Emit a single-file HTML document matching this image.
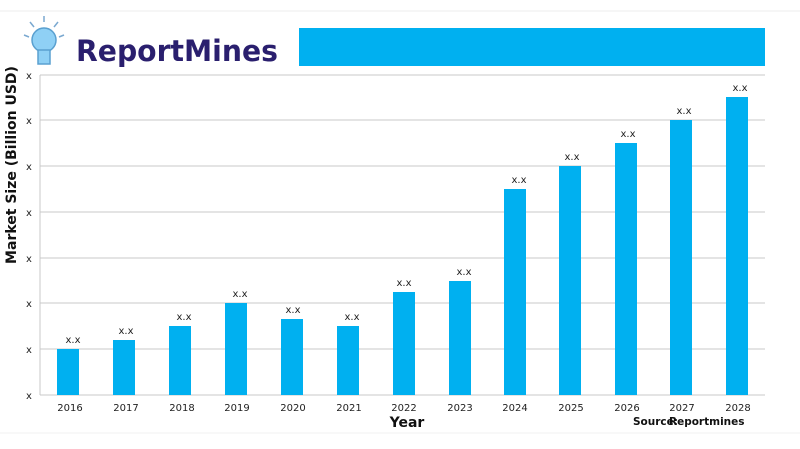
<!DOCTYPE html>
<html><head><style>
body{margin:0;width:800px;height:445px;background:#fff;overflow:hidden;font-family:"DejaVu Sans","Liberation Sans",sans-serif;}
</style></head><body>
<svg width="800" height="445" xmlns="http://www.w3.org/2000/svg" font-family="DejaVu Sans, Liberation Sans, sans-serif">
<line x1="0" y1="11" x2="800" y2="11" stroke="#eee"/>
<line x1="0" y1="433" x2="800" y2="433" stroke="#f2f2f2"/>
<rect x="299" y="28" width="466" height="38" fill="#00b0f0"/>
<g>
<circle cx="44" cy="40" r="12" fill="#8fd0f5" stroke="#5aa0d0" stroke-width="1.5"/>
<rect x="38" y="50" width="12" height="14" fill="#8fd0f5" stroke="#5aa0d0" stroke-width="1.5"/>
<g stroke="#7aa8d0" stroke-width="1.5">
<line x1="44" y1="16" x2="44" y2="22"/><line x1="30" y1="22" x2="34" y2="27"/><line x1="58" y1="22" x2="54" y2="27"/>
<line x1="24" y1="35" x2="29" y2="37"/><line x1="64" y1="35" x2="59" y2="37"/>
</g>
</g>
<text x="76" y="61" font-size="29" font-weight="bold" fill="#2a1f6e" textLength="202" lengthAdjust="spacingAndGlyphs">ReportMines</text>
<g stroke="#c8c8c8" stroke-width="1">
<line x1="40" y1="75" x2="765" y2="75"/><line x1="40" y1="120" x2="765" y2="120"/>
<line x1="40" y1="166" x2="765" y2="166"/><line x1="40" y1="212" x2="765" y2="212"/>
<line x1="40" y1="258" x2="765" y2="258"/><line x1="40" y1="303" x2="765" y2="303"/>
<line x1="40" y1="349" x2="765" y2="349"/><line x1="40" y1="395" x2="765" y2="395"/>
<line x1="40" y1="75" x2="40" y2="395"/>
</g>
<g font-size="10" fill="#222" text-anchor="middle">
<text x="29" y="79">x</text><text x="29" y="124">x</text><text x="29" y="170">x</text><text x="29" y="216">x</text>
<text x="29" y="262">x</text><text x="29" y="307">x</text><text x="29" y="353">x</text><text x="29" y="399">x</text>
</g>
<text transform="translate(16,165) rotate(-90)" font-size="14" font-weight="bold" text-anchor="middle" fill="#111">Market Size (Billion USD)</text>
<g fill="#00b0f0">
<rect x="57" y="349" width="22" height="46"/><rect x="113" y="340" width="22" height="55"/>
<rect x="169" y="326" width="22" height="69"/><rect x="225" y="303" width="22" height="92"/>
<rect x="281" y="319" width="22" height="76"/><rect x="337" y="326" width="22" height="69"/>
<rect x="393" y="292" width="22" height="103"/><rect x="449" y="281" width="22" height="114"/>
<rect x="504" y="189" width="22" height="206"/><rect x="559" y="166" width="22" height="229"/>
<rect x="615" y="143" width="22" height="252"/><rect x="670" y="120" width="22" height="275"/>
<rect x="726" y="97" width="22" height="298"/>
</g>
<g font-size="10" fill="#222" text-anchor="middle">
<text x="73" y="343">x.x</text><text x="126" y="334">x.x</text><text x="184" y="320">x.x</text><text x="240" y="297">x.x</text>
<text x="293" y="313">x.x</text><text x="352" y="320">x.x</text><text x="404" y="286">x.x</text><text x="464" y="275">x.x</text>
<text x="519" y="183">x.x</text><text x="572" y="160">x.x</text><text x="628" y="137">x.x</text><text x="684" y="114">x.x</text><text x="740" y="91">x.x</text>
</g>
<g font-size="10" fill="#222" text-anchor="middle">
<text x="70" y="411">2016</text><text x="126" y="411">2017</text><text x="182" y="411">2018</text><text x="237" y="411">2019</text>
<text x="293" y="411">2020</text><text x="349" y="411">2021</text><text x="404" y="411">2022</text><text x="460" y="411">2023</text>
<text x="515" y="411">2024</text><text x="571" y="411">2025</text><text x="627" y="411">2026</text><text x="682" y="411">2027</text><text x="738" y="411">2028</text>
</g>
<text x="407" y="427" font-size="14" font-weight="bold" text-anchor="middle" fill="#111">Year</text>
<text x="633" y="425" font-size="10.5" font-weight="bold" fill="#111">Source:</text>
<text x="669" y="425" font-size="10.5" font-weight="bold" fill="#111">Reportmines</text>
</svg>
</body></html>
